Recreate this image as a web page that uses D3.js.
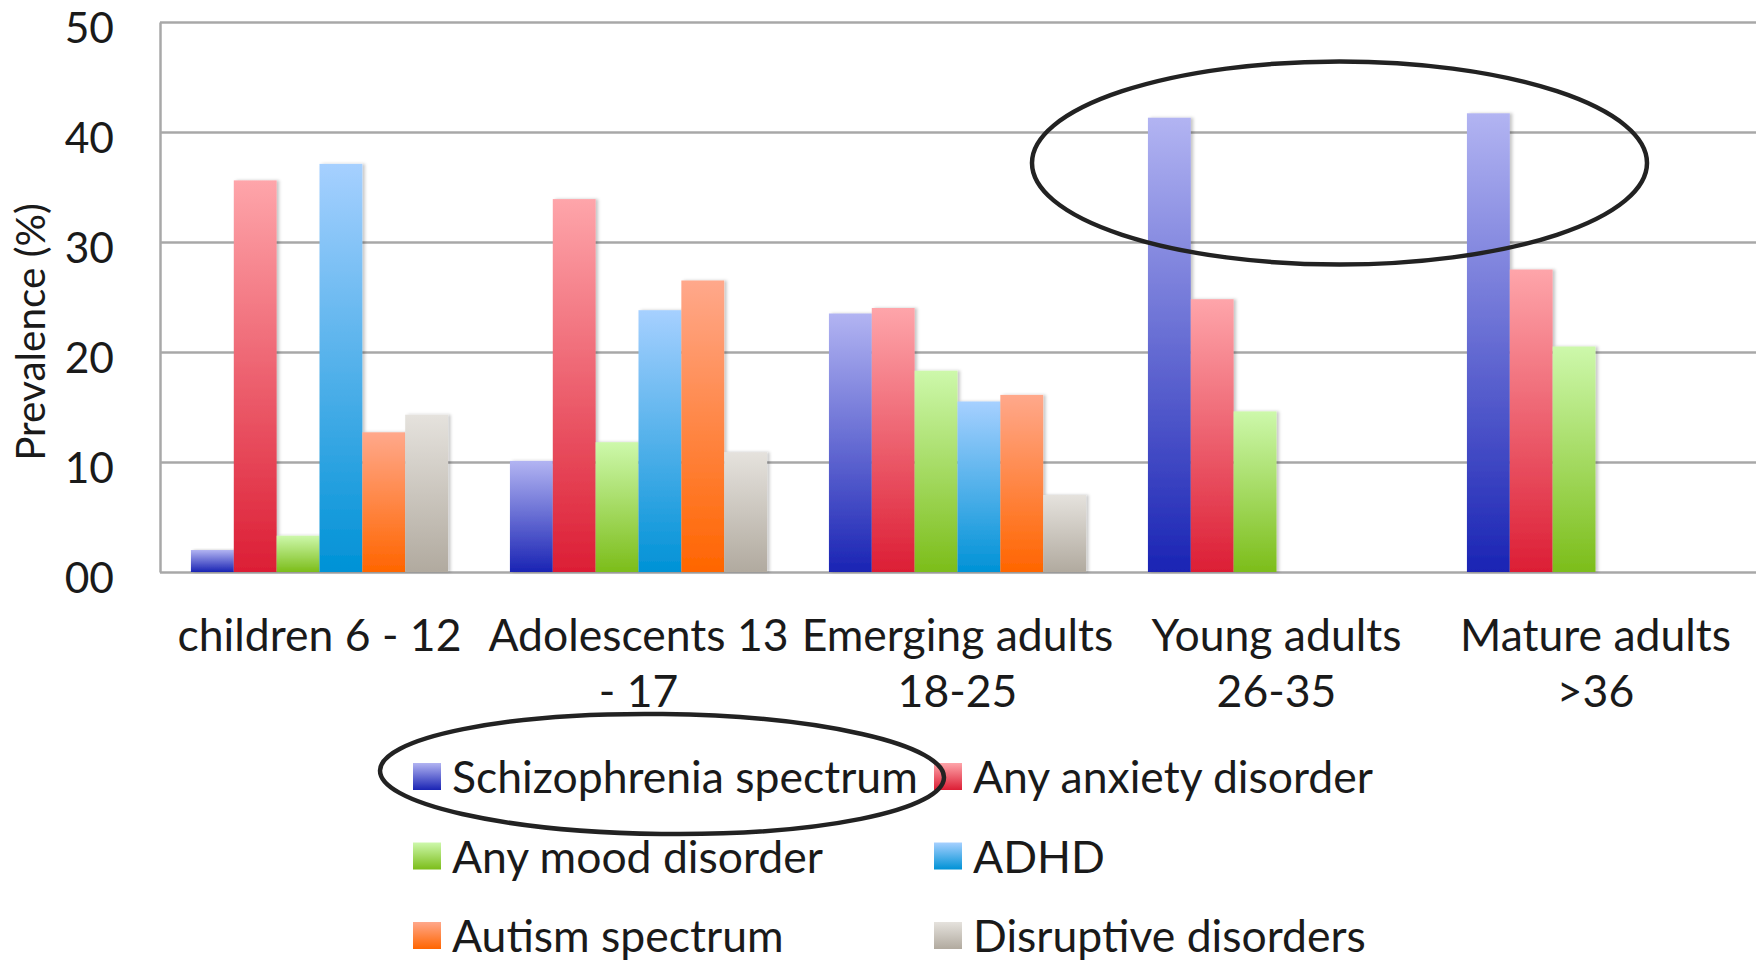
<!DOCTYPE html>
<html>
<head>
<meta charset="utf-8">
<script src="https://cdn.jsdelivr.net/npm/d3@7"></script>
<style>
  body { margin: 0; background: #fff; }
  text { font-family: Lato, "Open Sans", sans-serif; fill: #1a1a1a; }
</style>
</head>
<body>
<script>
// categories on the x axis, and how their labels wrap
var categories = ["children 6 - 12", "Adolescents 13 - 17", "Emerging adults 18-25", "Young adults 26-35", "Mature adults >36"];
var categoryLines = [["children 6 - 12"], ["Adolescents 13", "- 17"], ["Emerging adults", "18-25"], ["Young adults", "26-35"], ["Mature adults", ">36"]];

// series names (legend order)
var seriesNames = ["Schizophrenia spectrum", "Any anxiety disorder", "Any mood disorder", "ADHD", "Autism spectrum", "Disruptive disorders"];

// prevalence (%) per category, one array per series
var schizophrenia = [2.0, 10.1, 23.5, 41.3, 41.7];
var anxiety = [35.6, 33.9, 24.0, 24.8, 27.5];
var mood = [3.3, 11.8, 18.3, 14.6, 20.5];
var adhd = [37.1, 23.8, 15.5, null, null];
var autism = [12.7, 26.5, 16.1, null, null];
var disruptive = [14.3, 10.9, 7.0, null, null];

var yTicks = [0, 10, 20, 30, 40, 50];
var yTickLabels = ["00", "10", "20", "30", "40", "50"];

// gradient colours top -> bottom
var gradTop = ["#b2b4f2", "#fea5aa", "#cdf8ab", "#a6d0ff", "#ffa88b", "#e5e2dd"];
var gradBottom = ["#1a24b4", "#dc1e35", "#7cbd1a", "#0092d6", "#ff6500", "#b1aa9f"];

var seriesValues = [schizophrenia, anxiety, mood, adhd, autism, disruptive];

const canvWidth = 1756, canvHeight = 962;
const plot = {left: 160, right: 1755, top: 22, bottom: 572};

const svg = d3.select("body").append("svg")
    .attr("width", canvWidth)
    .attr("height", canvHeight);

const defs = svg.append("defs");
seriesNames.forEach(function (s, i) {
    var lg = defs.append("linearGradient")
        .attr("id", "grad" + i)
        .attr("x1", 0).attr("y1", 0).attr("x2", 0).attr("y2", 1);
    lg.append("stop").attr("offset", "0%").attr("stop-color", gradTop[i]);
    lg.append("stop").attr("offset", "100%").attr("stop-color", gradBottom[i]);
});
defs.append("filter").attr("id", "shadow")
    .attr("x", "-10%").attr("y", "-5%").attr("width", "130%").attr("height", "110%")
    .append("feDropShadow")
    .attr("dx", 2.5).attr("dy", 0).attr("stdDeviation", 1.5)
    .attr("flood-color", "#000").attr("flood-opacity", 0.22);

// scales
var x0 = d3.scaleBand()
    .domain(categories)
    .range([plot.left, plot.right])
    .paddingInner(0.194)
    .paddingOuter(0.097);

var x1 = d3.scaleBand()
    .domain(seriesNames)
    .range([0, x0.bandwidth()]);

var y = d3.scaleLinear()
    .domain([0, 50])
    .range([plot.bottom, plot.top]);

// gridlines
svg.append("g")
    .attr("class", "grid")
    .attr("transform", "translate(" + plot.left + ",0)")
    .call(d3.axisRight(y).tickValues(yTicks).tickSize(canvWidth - plot.left).tickFormat(""))
    .call(g => g.select(".domain").remove())
    .call(g => g.selectAll("line").attr("stroke", "#a8a8a8").attr("stroke-width", 2.5));

// left axis line + labels
svg.append("g")
    .attr("transform", "translate(" + plot.left + ",0)")
    .call(d3.axisLeft(y).tickValues(yTicks).tickSize(0).tickPadding(46)
        .tickFormat((d, i) => yTickLabels[i]))
    .call(g => g.select(".domain").attr("stroke", "#a8a8a8").attr("stroke-width", 2.5))
    .call(g => g.selectAll("text")
        .attr("dy", "20px")
        .style("font-family", "Lato, sans-serif")
        .style("font-size", "42.5px")
        .attr("fill", "#1a1a1a"));

// y title
svg.append("text")
    .attr("transform", "translate(45,332) rotate(-90)")
    .attr("text-anchor", "middle")
    .style("font-size", "40.5px")
    .text("Prevalence (%)");

// bars
var barData = [];
categories.forEach(function (c, ci) {
    seriesNames.forEach(function (s, si) {
        var v = seriesValues[si][ci];
        if (v != null) barData.push({cat: c, series: s, si: si, value: v});
    });
});

svg.append("g").selectAll("rect")
    .data(barData)
    .enter()
    .append("rect")
    .attr("x", d => x0(d.cat) + x1(d.series))
    .attr("y", d => y(d.value))
    .attr("width", x1.bandwidth())
    .attr("height", d => y(0) - y(d.value))
    .attr("fill", d => "url(#grad" + d.si + ")")
    .attr("filter", "url(#shadow)");

// category labels
var catLabels = svg.append("g").selectAll("text")
    .data(categories)
    .enter()
    .append("text")
    .attr("text-anchor", "middle")
    .style("font-size", "44.5px");

catLabels.selectAll("tspan")
    .data((d, i) => categoryLines[i].map(t => ({t: t, c: d})))
    .enter()
    .append("tspan")
    .attr("x", d => x0(d.c) + x0.bandwidth() / 2)
    .attr("y", (d, i) => 651 + i * 56)
    .text(d => d.t);

// legend
var legendCols = [413, 934];
var legendRowTop = 763, legendRowStep = 79.5;

var legend = svg.append("g").selectAll("g")
    .data(seriesNames)
    .enter()
    .append("g")
    .attr("transform", (d, i) => "translate(" + legendCols[i % 2] + "," + (legendRowTop + Math.floor(i / 2) * legendRowStep) + ")");

legend.append("rect")
    .attr("width", 28)
    .attr("height", 27)
    .attr("fill", (d, i) => "url(#grad" + i + ")");

legend.append("text")
    .attr("x", 39)
    .attr("y", 30)
    .style("font-size", "44.5px")
    .text(d => d);

// hand-drawn highlight ellipses
svg.append("ellipse")
    .attr("cx", 1339.5).attr("cy", 163)
    .attr("rx", 307.5).attr("ry", 101.5)
    .attr("fill", "none")
    .attr("stroke", "#222")
    .attr("stroke-width", 4.5);

svg.append("ellipse")
    .attr("transform", "rotate(0.7,662,774)")
    .attr("cx", 662).attr("cy", 774)
    .attr("rx", 282).attr("ry", 60)
    .attr("fill", "none")
    .attr("stroke", "#222")
    .attr("stroke-width", 4.5);
</script>
</body>
</html>
